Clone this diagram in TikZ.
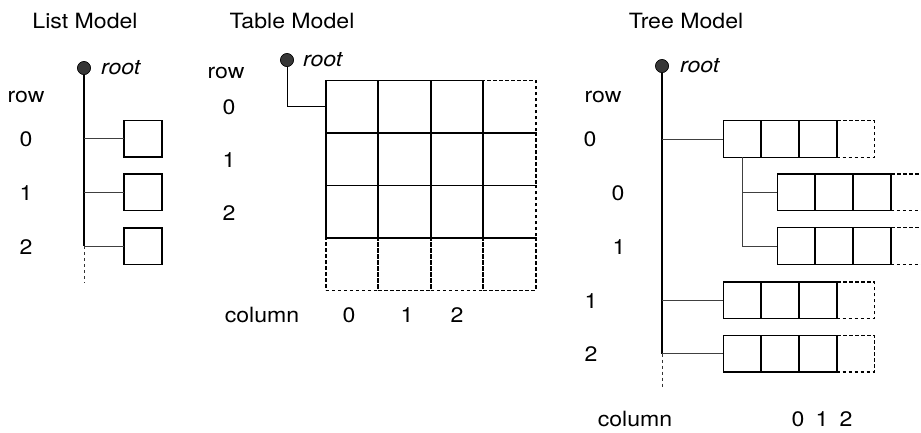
\documentclass[tikz,border=0pt]{standalone}
\usepackage{fontspec}
\setmainfont{TeX Gyre Heros}
\definecolor{dotgray}{RGB}{55,55,55}
\begin{document}
\begin{tikzpicture}[x=1pt,y=-1pt,
  txt/.style={font=\fontsize{21}{25}\selectfont, inner sep=0pt, xscale=1.1},
  itxt/.style={txt, font=\fontsize{21}{25}\selectfont\itshape, anchor=west},
  dot/.style={circle, fill=dotgray, draw=black, line width=0.5pt, minimum size=13pt, inner sep=0pt},
  cell/.style={draw, line width=1.6pt, minimum width=37.7pt, minimum height=36.7pt, inner sep=0pt, outer sep=0pt},
  dcell/.style={cell, line width=1.5pt, dash pattern=on 3.5pt off 2.5pt},
  tcell/.style={draw, line width=1.9pt, minimum width=52.5pt, minimum height=52.5pt, inner sep=0pt, outer sep=0pt},
  tdcell/.style={tcell, line width=1.6pt, dash pattern=on 3.5pt off 2.5pt},
  conn/.style={line width=0.9pt, black!75},
  trunk/.style={line width=1.2pt, black},
  dtrunk/.style={line width=1pt, black!80, dash pattern=on 3pt off 3pt}]
\useasboundingbox (0,0) rectangle (921,432);

% ---------------- List Model ----------------
\node[txt] (ltitle) at (85,21) {List Model};
\node[dot] (lroot) at (84,68) {};
\node[itxt] (lrootlbl) at (101,68) {root};
\node[txt] (lrow) at (26,97) {row};
\node[txt] (lr0) at (26,139) {0};
\node[txt] (lr1) at (26,193) {1};
\node[txt] (lr2) at (26,247) {2};
\node[cell, minimum width=38pt] (lb0) at (143,138.7) {};
\node[cell, minimum width=38pt] (lb1) at (143,192.3) {};
\node[cell, minimum width=38pt] (lb2) at (143,246.3) {};
\coordinate (lend) at (84,283);
\draw[trunk] (lroot) -- (lroot |- lb2);
\draw[dtrunk] (lroot |- lb2) -- (lend);
\draw[conn] (lroot |- lb0) -- (lb0.west);
\draw[conn] (lroot |- lb1) -- (lb1.west);
\draw[conn] (lroot |- lb2) -- (lb2.west);
\node[dot] at (lroot) {};

% ---------------- Table Model ----------------
\node[txt] (ttitle) at (292,21) {Table Model};
\node[dot] (troot) at (287,60) {};
\node[itxt] (trootlbl) at (303,60) {root};
\node[txt] (trow) at (226,73) {row};
\node[txt] (tr0) at (229,107) {0};
\node[txt] (tr1) at (229,160) {1};
\node[txt] (tr2) at (229,213) {2};
% dashed cells
\node[tdcell] (t03) at (509.5,106.7) {};
\node[tdcell] (t13) at (509.5,159.2) {};
\node[tdcell] (t23) at (509.5,211.7) {};
\node[tdcell] (t30) at (352,264.2) {};
\node[tdcell] (t31) at (404.5,264.2) {};
\node[tdcell] (t32) at (457,264.2) {};
\node[tdcell] (t33) at (509.5,264.2) {};
% solid cells
\node[tcell] (t00) at (352,106.7) {};
\node[tcell] (t01) at (404.5,106.7) {};
\node[tcell] (t02) at (457,106.7) {};
\node[tcell] (t10) at (352,159.2) {};
\node[tcell] (t11) at (404.5,159.2) {};
\node[tcell] (t12) at (457,159.2) {};
\node[tcell] (t20) at (352,211.7) {};
\node[tcell] (t21) at (404.5,211.7) {};
\node[tcell] (t22) at (457,211.7) {};
\draw[trunk, line width=1pt] (troot) |- (t00.west);
\node[dot] at (troot) {};
\node[txt] (tcol) at (262,315) {column};
\node[txt] (tc0) at (349,315) {0};
\node[txt] (tc1) at (407,315) {1};
\node[txt] (tc2) at (457,315) {2};

% ---------------- Tree Model ----------------
\node[txt] (rtitle) at (686,21) {Tree Model};
\node[dot] (rroot) at (662,66) {};
\node[itxt] (rrootlbl) at (680,66) {root};
\node[txt] (rrow) at (603,97) {row};
\node[txt] (rr0) at (590,139) {0};
\node[txt] (rc0lbl) at (618,193) {0};
\node[txt] (rc1lbl) at (619,247) {1};
\node[txt] (rr1) at (591,301) {1};
\node[txt] (rr2) at (591,354) {2};
% row 0
\node[dcell] (r0d) at (855.5,139) {};
\node[cell] (r0a) at (742.2,139) {};
\node[cell] (r0b) at (780,139) {};
\node[cell] (r0c) at (817.9,139) {};
% child 0
\node[dcell] (c0d) at (909.7,192.3) {};
\node[cell] (c0a) at (796.2,192.3) {};
\node[cell] (c0b) at (834,192.3) {};
\node[cell] (c0c) at (871.9,192.3) {};
% child 1
\node[dcell] (c1d) at (909.7,246) {};
\node[cell] (c1a) at (796.2,246) {};
\node[cell] (c1b) at (834,246) {};
\node[cell] (c1c) at (871.9,246) {};
% row 1
\node[dcell] (r1d) at (855.5,300.3) {};
\node[cell] (r1a) at (742.2,300.3) {};
\node[cell] (r1b) at (780,300.3) {};
\node[cell] (r1c) at (817.9,300.3) {};
% row 2
\node[dcell] (r2d) at (855.5,353.7) {};
\node[cell] (r2a) at (742.2,353.7) {};
\node[cell] (r2b) at (780,353.7) {};
\node[cell] (r2c) at (817.9,353.7) {};
\coordinate (rend) at (662,388);
\draw[trunk] (rroot) -- (rroot |- r2a);
\draw[dtrunk] (rroot |- r2a) -- (rend);
\draw[conn] (rroot |- r0a) -- (r0a.west);
\draw[conn] (rroot |- r1a) -- (r1a.west);
\draw[conn] (rroot |- r2a) -- (r2a.west);
\draw[conn] (r0a.south) |- (c1a.west);
\draw[conn] (r0a.south |- c0a) -- (c0a.west);
\node[dot] at (rroot) {};
\node[txt] (rcol) at (635,419) {column};
\node[txt] (rcc0) at (798,419) {0};
\node[txt] (rcc1) at (822,419) {1};
\node[txt] (rcc2) at (846,419) {2};
\end{tikzpicture}
\end{document}
